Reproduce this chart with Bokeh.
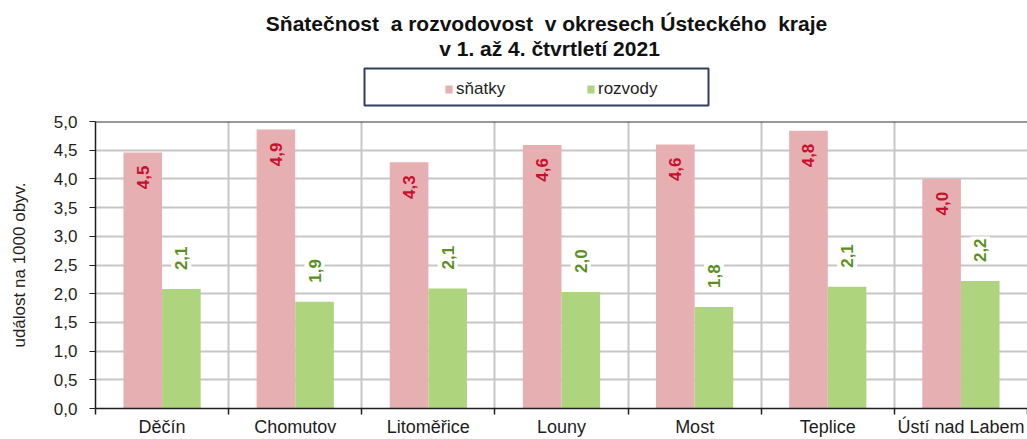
import numpy as np
from bokeh.plotting import figure
from bokeh.layouts import column
from bokeh.models import (Range1d, FixedTicker, CustomJSTickFormatter, Legend, LegendItem,
                          BoxAnnotation, Label, ColumnDataSource, Span)
from bokeh.embed import file_html
from bokeh.resources import INLINE

# ---- data ----
okresy = ["Děčín", "Chomutov", "Litoměřice", "Louny", "Most", "Teplice", "Ústí nad Labem"]
snatky = [4.46, 4.86, 4.29, 4.59, 4.60, 4.84, 4.00]
rozvody = [2.08, 1.86, 2.09, 2.03, 1.77, 2.12, 2.22]
y_ticks = [0.0, 0.5, 1.0, 1.5, 2.0, 2.5, 3.0, 3.5, 4.0, 4.5, 5.0]
title_lines = ["Sňatečnost \u00a0a rozvodovost \u00a0v okresech Ústeckého \u00a0kraje",
               "v 1. až 4. čtvrtletí 2021"]
series_names = ["sňatky", "rozvody"]
y_label = "událost na 1000 obyv."

FONT = "Liberation Sans"
PINK = "#E6AFB1"
GREEN = "#AED47E"
DARK = "#1E1E1E"

def fmt(v):
    return f"{v:.1f}".replace(".", ",")

n = len(okresy)
xc = np.arange(n) + 0.5
bw = 0.29
src = ColumnDataSource(dict(
    xs=xc - bw / 2, xr=xc + bw / 2,
    snatky=snatky, rozvody=rozvody,
    ls=[fmt(v) for v in snatky], lr=[fmt(v) for v in rozvody],
))

W = 1027
HEAD_H = 109
FRAME_LEFT = 95      # frames of both figures are aligned by the column layout

# ---------- header: title + legend ----------
head = figure(width=W, height=HEAD_H, x_range=Range1d(0, n), y_range=Range1d(100, 101),
              x_axis_type=None, y_axis_type=None, output_backend="svg", toolbar_location=None,
              min_border=0)
head.outline_line_color = None
head.background_fill_color = "white"
head.border_fill_color = "white"

# legend proxies (same data, outside the header's visible range)
d1 = head.vbar(x="xs", top="snatky", width=bw, source=src, fill_color=PINK, line_color=None)
d2 = head.vbar(x="xr", top="rozvody", width=bw, source=src, fill_color=GREEN, line_color=None)

def sx(x):
    return x - FRAME_LEFT

def sy(y):
    return HEAD_H - y

head.add_layout(Label(x=sx(546), y=sy(22.5), x_units="screen", y_units="screen", text=title_lines[0],
                      text_align="center", text_baseline="middle", text_font=FONT,
                      text_font_size="21px", text_font_style="bold", text_color="#111111"))
head.add_layout(Label(x=sx(549), y=sy(47.5), x_units="screen", y_units="screen", text=title_lines[1],
                      text_align="center", text_baseline="middle", text_font=FONT,
                      text_font_size="21px", text_font_style="bold", text_color="#111111"))

legend = Legend(items=[LegendItem(label=series_names[0], renderers=[d1]),
                       LegendItem(label=series_names[1], renderers=[d2])],
                location=(sx(444), sy(99)), orientation="horizontal",
                glyph_width=9, glyph_height=10, label_standoff=3, label_width=120, spacing=10,
                padding=5, border_line_color=None, background_fill_alpha=0,
                label_text_font=FONT, label_text_font_size="17px", label_text_color=DARK)
head.add_layout(legend)
head.add_layout(BoxAnnotation(left=sx(364), right=sx(708), bottom=sy(105), top=sy(68),
                              left_units="screen", right_units="screen",
                              bottom_units="screen", top_units="screen",
                              fill_color=None, fill_alpha=0, line_color="#2F3F5F",
                              line_alpha=1.0, line_width=2))

# ---------- main chart ----------
p = figure(width=W, height=439 - HEAD_H, x_range=Range1d(0, n), y_range=Range1d(0, 5),
           output_backend="svg", toolbar_location=None,
           min_border_left=FRAME_LEFT, min_border_right=0, min_border_top=12, min_border_bottom=28)
p.background_fill_color = "white"
p.border_fill_color = "white"
p.outline_line_color = None

r1 = p.vbar(x="xs", top="snatky", width=bw, source=src, fill_color=PINK, line_color=None)
r2 = p.vbar(x="xr", top="rozvody", width=bw, source=src, fill_color=GREEN, line_color=None)

p.text(x="xs", y="snatky", text="ls", source=src, angle=np.pi / 2, text_align="right",
       text_baseline="middle", y_offset=13, text_color="#C8102E", text_font_size="17px",
       text_font_style="bold", text_font={"value": FONT})
p.text(x="xr", y="rozvody", text="lr", source=src, angle=np.pi / 2, text_align="left",
       text_baseline="middle", y_offset=-17, text_color="#5B8F22", text_font_size="17px",
       text_font_style="bold", text_font={"value": FONT},
       background_fill_color="white", padding=dict(left=2, right=2, top=4, bottom=4))

# top border of the plot area (right side is open, as in the original)
p.add_layout(Span(location=y_ticks[-1], dimension="width", line_color="#333333", line_width=2))

# axes
p.yaxis.ticker = FixedTicker(ticks=y_ticks)
p.yaxis.formatter = CustomJSTickFormatter(code="return tick.toFixed(1).replace('.', ',')")
p.yaxis.axis_label = y_label
p.yaxis.axis_label_text_font_style = "normal"
p.yaxis.axis_label_text_font = FONT
p.yaxis.axis_label_text_font_size = "17px"
p.yaxis.axis_label_text_color = DARK
p.yaxis.axis_label_standoff = 22
p.yaxis.major_label_text_font = FONT
p.yaxis.major_label_text_font_size = "17px"
p.yaxis.major_label_text_color = DARK
p.yaxis.major_label_standoff = 12
p.yaxis.major_tick_out = 6
p.yaxis.major_tick_in = 0
p.yaxis.minor_tick_line_color = None
p.yaxis.axis_line_color = DARK
p.yaxis.axis_line_width = 1.5
p.yaxis.major_tick_line_color = DARK

p.xaxis.ticker = FixedTicker(ticks=list(xc), minor_ticks=list(range(n + 1)))
p.xaxis.major_label_overrides = {float(x): name for x, name in zip(xc, okresy)}
p.xaxis.major_label_text_font = FONT
p.xaxis.major_label_text_font_size = "18px"
p.xaxis.major_label_text_color = DARK
p.xaxis.major_label_standoff = 2
p.xaxis.major_tick_line_color = None
p.xaxis.major_tick_out = 0
p.xaxis.major_tick_in = 0
p.xaxis.minor_tick_out = 6
p.xaxis.minor_tick_in = 0
p.xaxis.minor_tick_line_color = DARK
p.xaxis.minor_tick_line_width = 1.5
p.xaxis.axis_line_color = DARK
p.xaxis.axis_line_width = 1.5

p.xgrid.ticker = FixedTicker(ticks=list(range(1, n)))
p.ygrid.ticker = FixedTicker(ticks=y_ticks[1:-1])
for g in (p.xgrid, p.ygrid):
    g.grid_line_color = "#C6C6C6"
    g.grid_line_width = 2

layout = column(head, p, spacing=0)
open("out.html", "w").write(file_html(layout, INLINE))
